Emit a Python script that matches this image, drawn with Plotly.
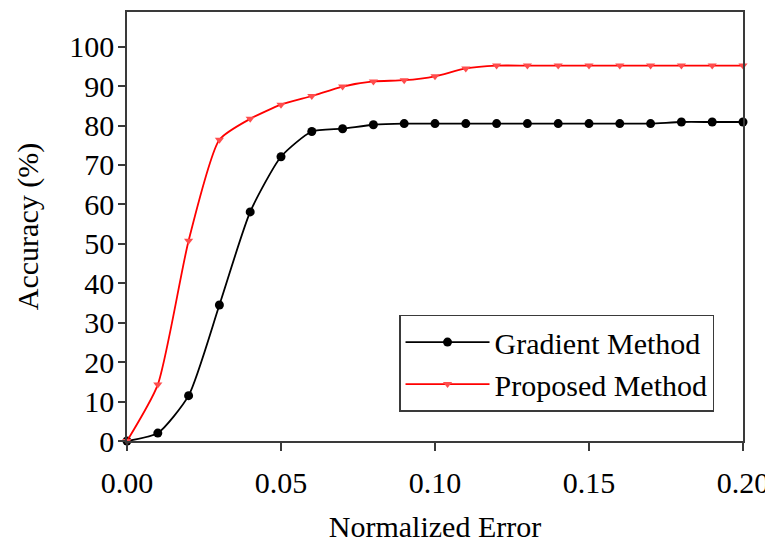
import plotly.graph_objects as go

x_vals = [0.00, 0.01, 0.02, 0.03, 0.04, 0.05, 0.06, 0.07, 0.08, 0.09, 0.10,
          0.11, 0.12, 0.13, 0.14, 0.15, 0.16, 0.17, 0.18, 0.19, 0.20]
gradient = [0, 2.0, 11.5, 34.5, 58.1, 72.1, 78.5, 79.2, 80.2, 80.5, 80.5,
            80.5, 80.5, 80.5, 80.5, 80.5, 80.5, 80.5, 80.9, 80.9, 80.9]
proposed = [0, 14.3, 50.8, 76.4, 81.7, 85.3, 87.5, 89.9, 91.2, 91.5, 92.5,
            94.5, 95.2, 95.2, 95.2, 95.2, 95.2, 95.2, 95.2, 95.2, 95.2]

x_ticks = [0.00, 0.05, 0.10, 0.15, 0.20]
x_tick_text = ["0.00", "0.05", "0.10", "0.15", "0.20"]
y_ticks = [0, 10, 20, 30, 40, 50, 60, 70, 80, 90, 100]

FONT = "Liberation Serif, Times New Roman, serif"
AX = "#3a3a3a"

fig = go.Figure()
fig.add_trace(go.Scatter(
    x=x_vals, y=gradient, name="Gradient Method", mode="lines+markers",
    line=dict(color="black", width=1.8, shape="spline", smoothing=0.6),
    marker=dict(symbol="circle", size=9, color="black"),
    cliponaxis=False,
))
fig.add_trace(go.Scatter(
    x=x_vals, y=proposed, name="Proposed Method", mode="lines+markers",
    line=dict(color="#ff0000", width=1.8, shape="spline", smoothing=0.6),
    marker=dict(symbol="triangle-down", size=8, color="#ff4d4d"),
    cliponaxis=False,
))

fig.update_layout(
    width=765, height=538,
    margin=dict(l=119, r=30, t=2, b=105),
    paper_bgcolor="white", plot_bgcolor="white",
    font=dict(family=FONT, color="black", size=30),
    showlegend=True,
    legend=dict(
        x=0.4416, y=0.2947, xanchor="left", yanchor="top",
        bgcolor="white", bordercolor=AX, borderwidth=1.5,
        font=dict(family=FONT, size=30, color="black"),
        itemwidth=84, tracegroupgap=0,
    ),
    xaxis=dict(
        range=[0, 0.2], tickvals=x_ticks, ticktext=x_tick_text,
        ticks="outside", ticklen=8, tickwidth=1.5, tickcolor=AX,
        showline=True, linecolor=AX, linewidth=1.5, mirror=True,
        showgrid=False, zeroline=False,
        tickfont=dict(family=FONT, size=30),
        ticklabelstandoff=6,
        title=dict(text="Normalized Error", font=dict(family=FONT, size=30), standoff=18),
    ),
    yaxis=dict(
        range=[0, 108.8], tickvals=y_ticks,
        ticks="outside", ticklen=7, tickwidth=1.5, tickcolor=AX,
        showline=True, linecolor=AX, linewidth=1.5, mirror=True,
        showgrid=False, zeroline=False,
        tickfont=dict(family=FONT, size=30),
        ticklabelstandoff=-2,
        title=dict(text="Accuracy (%)", font=dict(family=FONT, size=30), standoff=22),
    ),
)

fig.write_html("out.html")
